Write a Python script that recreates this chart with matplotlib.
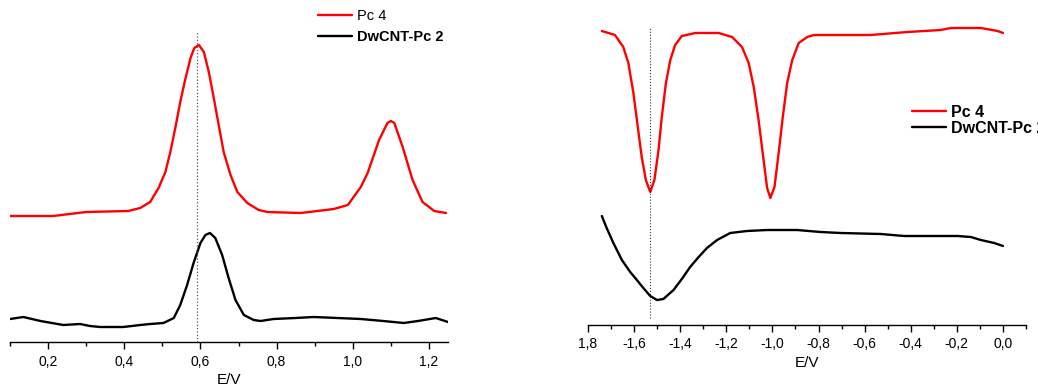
import matplotlib
matplotlib.use('Agg')
import matplotlib.pyplot as plt
from matplotlib.ticker import FixedLocator, FixedFormatter, MultipleLocator

plt.rcParams['font.family'] = ['Liberation Sans', 'DejaVu Sans']

# ---- oxidation scan (left) ----
e_ox_pc = [0.10, 0.213, 0.30, 0.41, 0.442, 0.468, 0.49, 0.508, 0.521, 0.534, 0.547,
           0.561, 0.574, 0.584, 0.596, 0.609, 0.622, 0.635, 0.648, 0.661, 0.679,
           0.697, 0.723, 0.753, 0.776, 0.863, 0.95, 0.987, 1.021, 1.039, 1.069,
           1.091, 1.10, 1.109, 1.131, 1.157, 1.183, 1.214, 1.245]
i_ox_pc = [126, 126, 130, 131, 134, 140, 154, 170, 190, 214, 240,
           264, 284, 294, 297, 290, 270, 244, 217, 190, 167,
           150, 139, 132, 130, 129, 133, 137, 155, 169, 202,
           219, 221, 219, 195, 162, 140, 131, 129]

e_ox_cnt = [0.10, 0.135, 0.18, 0.24, 0.284, 0.31, 0.337, 0.397, 0.42, 0.442, 0.468,
            0.503, 0.53, 0.547, 0.565, 0.582, 0.60, 0.613, 0.625, 0.639, 0.657,
            0.674, 0.692, 0.714, 0.74, 0.758, 0.792, 0.85, 0.897, 0.96, 1.021,
            1.08, 1.134, 1.171, 1.218, 1.25]
i_ox_cnt = [23, 25, 21, 17, 18, 16, 15, 15, 16, 17, 18,
            19, 24, 37, 57, 79, 99, 107, 109, 104, 87,
            64, 42, 27, 22, 21, 23, 24, 25, 24, 23,
            21, 19, 21, 24, 20]

# ---- reduction scan (right) ----
e_red_pc = [-1.74, -1.683, -1.647, -1.625, -1.603, -1.584, -1.567, -1.549, -1.53,
            -1.512, -1.494, -1.48, -1.462, -1.443, -1.422, -1.393, -1.335, -1.233,
            -1.175, -1.132, -1.103, -1.081, -1.06, -1.04, -1.023, -1.009, -0.991,
            -0.973, -0.955, -0.936, -0.914, -0.886, -0.849, -0.82, -0.675, -0.574,
            -0.414, -0.27, -0.226, -0.096, -0.023, 0.0]
i_red_pc = [294, 290, 278, 262, 232, 198, 168, 145, 133,
            145, 175, 208, 242, 265, 280, 289, 292, 292,
            288, 278, 262, 238, 205, 168, 137, 127, 138,
            172, 208, 242, 265, 282, 288, 290, 290, 290,
            293, 295, 297, 297, 294, 292]

e_red_cnt = [-1.74, -1.719, -1.69, -1.653, -1.617, -1.588, -1.56, -1.53, -1.501,
             -1.473, -1.429, -1.393, -1.357, -1.32, -1.284, -1.24, -1.183, -1.11,
             -1.023, -0.893, -0.791, -0.704, -0.53, -0.429, -0.197, -0.139, -0.096,
             -0.038, 0.0]
i_red_cnt = [109, 97, 82, 65, 53, 45, 37, 29, 25,
             26, 35, 46, 58, 68, 77, 85, 92, 94,
             95, 95, 93, 92, 91, 89, 89, 88, 85,
             82, 79]

e_mark_ox = 0.592
e_mark_red = -1.53

ox_ticks = [0.2, 0.4, 0.6, 0.8, 1.0, 1.2]
ox_labels = ['0,2', '0,4', '0,6', '0,8', '1,0', '1,2']
red_ticks = [-1.8, -1.6, -1.4, -1.2, -1.0, -0.8, -0.6, -0.4, -0.2, 0.0]
red_labels = ['1,8', '-1,6', '-1,4', '-1,2', '-1,0', '-0,8', '-0,6', '-0,4', '-0,2', '0,0']

W, H = 1038, 389
fig = plt.figure(figsize=(W / 100, H / 100), dpi=100)

ax1 = fig.add_axes([10 / W, 1 - 342 / H, 438 / W, 332 / H])
ax2 = fig.add_axes([588 / W, 1 - 325 / H, 438 / W, 315 / H])


def style(ax, ticks, labels, xlim, ylim):
    ax.set_xlim(*xlim)
    ax.set_ylim(*ylim)
    for s in ['top', 'right', 'left']:
        ax.spines[s].set_visible(False)
    ax.spines['bottom'].set_linewidth(1.0)
    ax.set_yticks([])
    ax.xaxis.set_major_locator(FixedLocator(ticks))
    ax.xaxis.set_major_formatter(FixedFormatter(labels))
    ax.xaxis.set_minor_locator(MultipleLocator(0.1))
    ax.tick_params(axis='x', which='major', length=5, width=1.0, labelsize=10, pad=4)
    ax.tick_params(axis='x', which='minor', length=3, width=1.0)
    ax.set_xlabel('E/V', fontsize=11, labelpad=3)
    ax.patch.set_alpha(0)


line_kw = dict(lw=1.7, solid_joinstyle='round', solid_capstyle='round')

# left panel
ax1.plot(e_ox_pc, i_ox_pc, color='#ff0000', label='Pc 4', **line_kw)
ax1.plot(e_ox_cnt, i_ox_cnt, color='black', label='DwCNT-Pc 2', **line_kw)
ax1.plot([e_mark_ox, e_mark_ox], [0, 310], color='#555555', ls=':', lw=0.9)
style(ax1, ox_ticks, ox_labels, (0.1, 1.25), (0, 332))
leg1 = ax1.legend(loc='upper left', bbox_to_anchor=(318 / W, 1 - 9 / H),
                  bbox_transform=fig.transFigure, frameon=False, fontsize=10.5,
                  handlelength=2.3, handletextpad=0.35, labelspacing=0.5,
                  borderpad=0, borderaxespad=0)
leg1.get_texts()[1].set_fontweight('bold')

# right panel (legend runs into the right edge, as in the source figure)
ax2.plot(e_red_pc, i_red_pc, color='#ff0000', label='Pc 4', **line_kw)
ax2.plot(e_red_cnt, i_red_cnt, color='black', label='DwCNT-Pc 2', **line_kw)
ax2.plot([e_mark_red, e_mark_red], [7, 298], color='#333333', ls=':', lw=0.8)
style(ax2, red_ticks, red_labels, (-1.8, 0.1), (0, 315))
leg2 = ax2.legend(loc='upper left', bbox_to_anchor=(912 / W, 1 - 105 / H),
                  bbox_transform=fig.transFigure, frameon=False, fontsize=11.5,
                  handlelength=2.15, handletextpad=0.3, labelspacing=0.05,
                  borderpad=0, borderaxespad=0)
for t in leg2.get_texts():
    t.set_fontweight('bold')

fig.savefig('out.png', dpi=100)
